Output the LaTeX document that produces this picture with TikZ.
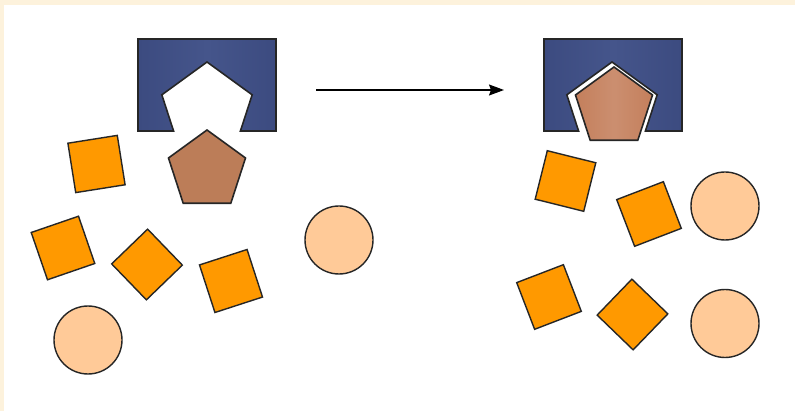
\documentclass[tikz,border=0pt]{standalone}
\usetikzlibrary{shapes.geometric,arrows.meta}
\definecolor{cream}{HTML}{FDF2DC}
\definecolor{navy}{HTML}{3C4B80}
\definecolor{navylight}{HTML}{45558B}
\definecolor{ligorange}{HTML}{FF9900}
\definecolor{peach}{HTML}{FFCA98}
\definecolor{brownL}{HTML}{BC7D58}
\definecolor{brownR}{HTML}{C47F5C}
\definecolor{edge}{HTML}{262626}
\tikzset{
  sq/.style={rectangle,draw=edge,line width=1.4pt,fill=ligorange,
    minimum size=50pt,inner sep=0pt,outer sep=0pt},
  ball/.style={circle,draw=edge,line width=1.4pt,fill=peach,
    minimum size=68pt,inner sep=0pt,outer sep=0pt},
  penta/.style={regular polygon,regular polygon sides=5,draw=edge,
    line width=1.6pt,inner sep=0pt,outer sep=0pt},
  site/.style={draw=edge,line width=1.6pt},
}
\begin{document}
\begin{tikzpicture}[x=1pt,y=-1pt]
% page and its thin cream margin
\fill[cream] (0,0) rectangle (795,411);
\fill[white] (4,5) rectangle (795,411);
\useasboundingbox (0,0) rectangle (795,411);

% ---- left: receptor with an empty pentagonal site ----
\shade[left color=navy,right color=navy,middle color=navylight]
  (138,39) rectangle (276,131);
\draw[site] (138,39) rectangle (276,131);
\begin{scope}
  \clip (137,38) rectangle (277,131.8);
  \node[penta,fill=white,minimum size=95pt] (holeL) at (207,109.5) {};
\end{scope}

% ligand waiting below the site
\node[penta,fill=brownL,minimum size=81pt] (ligL) at (207,170.5) {};

% other molecules
\node[sq,rotate=9]  (sqL1) at (96.5,164) {};
\node[sq,rotate=19] (sqL2) at (63,248) {};
\node[sq,rotate=44] (sqL3) at (147,264.5) {};
\node[sq,rotate=18] (sqL4) at (231,281) {};
\node[ball] (ballL1) at (339,240) {};
\node[ball] (ballL2) at (88,340) {};

% ---- arrow ----
\coordinate (arrA) at (316,90);
\coordinate (arrB) at (504,90);
\draw[line width=1.3pt,-{Stealth[length=15pt,width=11pt,inset=2pt]}]
  (arrA) -- (arrB);

% ---- right: ligand docked in the site ----
\shade[left color=navy,right color=navy,middle color=navylight]
  (544,39) rectangle (682,131);
\draw[site] (544,39) rectangle (682,131);
\begin{scope}
  \clip (543,38) rectangle (683,131.8);
  \node[penta,fill=white,minimum size=95pt] (holeR) at (612,109.5) {};
\end{scope}
\node[penta,left color=brownR,right color=brownR,
  middle color=brownR!88!white,minimum size=81pt] (ligR) at (614,107.5) {};

\node[sq,rotate=-14] (sqR1) at (565.5,181) {};
\node[sq,rotate=21]  (sqR2) at (649,214) {};
\node[sq,rotate=21]  (sqR3) at (549,297) {};
\node[sq,rotate=46]  (sqR4) at (632.5,314.5) {};
\node[ball] (ballR1) at (725,206) {};
\node[ball] (ballR2) at (725,323.5) {};
\end{tikzpicture}
\end{document}
